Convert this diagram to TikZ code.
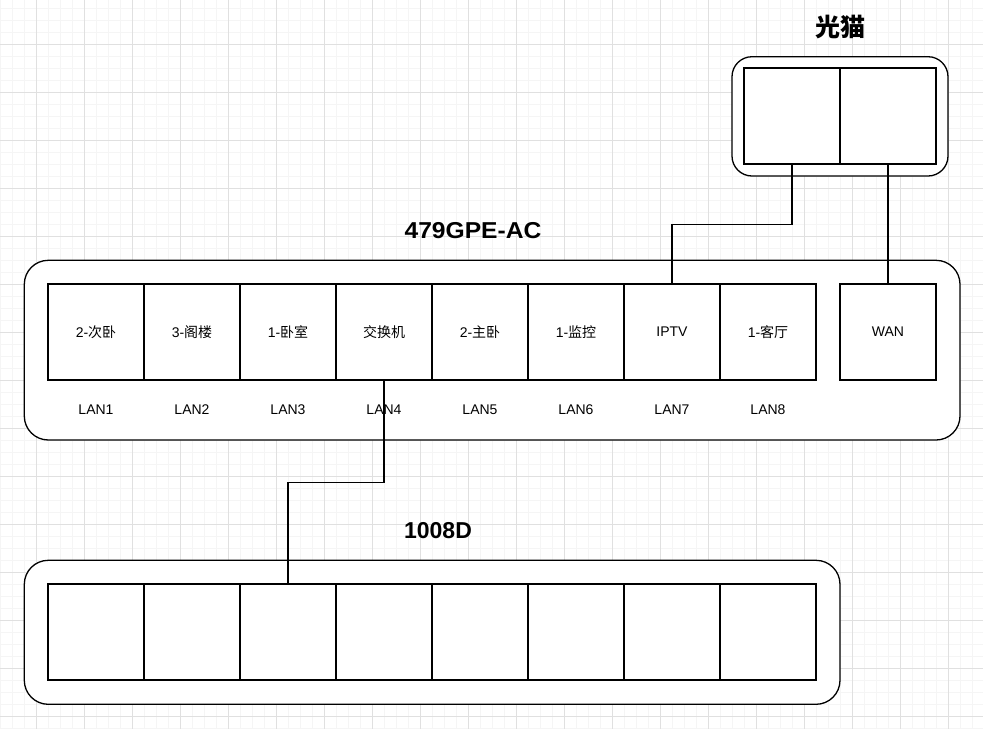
\documentclass[tikz,border=0pt]{standalone}
\usepackage{fontspec}
\setmainfont{Liberation Sans}
\newfontfamily\cjk{Noto Sans CJK SC}
\begin{document}
\begin{tikzpicture}[x=1pt,y=-1pt,
  port/.style={draw=black,line width=1.3pt,fill=white,minimum width=96pt,minimum height=96pt,inner sep=0pt,font=\fontsize{14}{16}\selectfont},
  shell/.style={draw=black,line width=1.3pt,fill=white,inner sep=0pt},
  lanlbl/.style={inner sep=0pt,font=\fontsize{14}{16}\selectfont},
  title/.style={inner sep=0pt,font=\fontsize{23}{26}\selectfont\bfseries},
  wire/.style={draw=black,line width=1.3pt}]
\useasboundingbox (0,0) rectangle (983,729);
\fill[white] (0,0) rectangle (983,729);
% grid
\foreach \x in {0,12,...,983} \draw[color=black!4,line width=0.8pt] (\x,0) -- (\x,729);
\foreach \y in {8,20,...,729} \draw[color=black!4,line width=0.8pt] (0,\y) -- (983,\y);
\foreach \x in {36,84,...,983} \draw[color=black!12,line width=0.8pt] (\x,0) -- (\x,729);
\foreach \y in {44,92,...,729} \draw[color=black!12,line width=0.8pt] (0,\y) -- (983,\y);

% modem
\node[title,font=\fontsize{25}{28}\selectfont] (tmodem) at (840,27) {\cjk\bfseries 光猫};
\node[shell,rounded corners=20pt,minimum width=216pt,minimum height=119.3pt] (modem) at (840,116.35) {};
\node[port] (m1) at (792,116) {};
\node[port] (m2) at (888,116) {};

% router
\node[title] (trouter) at (473,231) {\scalebox{1.07}[1]{479GPE-AC}};
\node[shell,rounded corners=24pt,minimum width=935.7pt,minimum height=179.7pt] (router) at (492.15,350.15) {};
\node[port] (r1) at (96,332) {2-{\cjk 次卧}};
\node[port] (r2) at (192,332) {3-{\cjk 阁楼}};
\node[port] (r3) at (288,332) {1-{\cjk 卧室}};
\node[port] (r4) at (384,332) {{\cjk 交换机}};
\node[port] (r5) at (480,332) {2-{\cjk 主卧}};
\node[port] (r6) at (576,332) {1-{\cjk 监控}};
\node[port] (r7) at (672,332) {IPTV};
\node[port] (r8) at (768,332) {1-{\cjk 客厅}};
\node[port] (wan) at (888,332) {WAN};
\node[lanlbl] (l1) at (96,410) {LAN1};
\node[lanlbl] (l2) at (192,410) {LAN2};
\node[lanlbl] (l3) at (288,410) {LAN3};
\node[lanlbl] (l4) at (384,410) {LAN4};
\node[lanlbl] (l5) at (480,410) {LAN5};
\node[lanlbl] (l6) at (576,410) {LAN6};
\node[lanlbl] (l7) at (672,410) {LAN7};
\node[lanlbl] (l8) at (768,410) {LAN8};

% switch
\node[title] (tswitch) at (438,531) {1008D};
\node[shell,rounded corners=24pt,minimum width=815.7pt,minimum height=144pt] (switch) at (432.15,632.3) {};
\node[port] (s1) at (96,632) {};
\node[port] (s2) at (192,632) {};
\node[port] (s3) at (288,632) {};
\node[port] (s4) at (384,632) {};
\node[port] (s5) at (480,632) {};
\node[port] (s6) at (576,632) {};
\node[port] (s7) at (672,632) {};
\node[port] (s8) at (768,632) {};

% wires
\draw[wire] (m1.south) -- ++(0,60) -| (r7.north);
\draw[wire] (m2.south) -- (wan.north);
\draw[wire] (r4.south) -- ++(0,102) -| (s3.north);
\end{tikzpicture}
\end{document}
